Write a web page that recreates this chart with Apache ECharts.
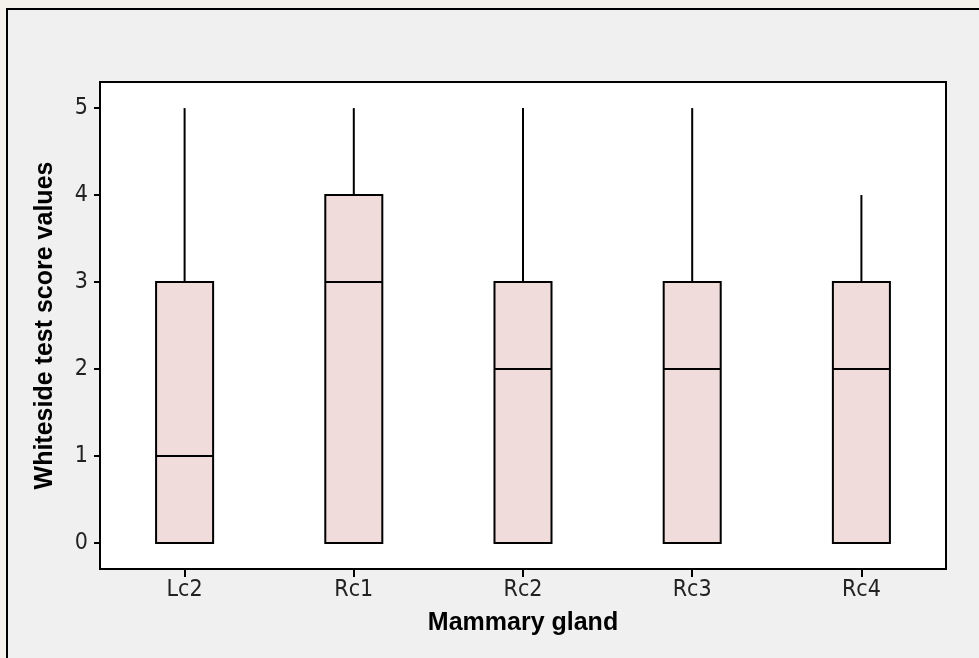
<!DOCTYPE html>
<html>
<head>
<meta charset="utf-8">
<script src="https://cdn.jsdelivr.net/npm/echarts@6/dist/echarts.min.js"></script>
<style>
html,body{margin:0;padding:0;background:#f4f2eb;}
#main{width:979px;height:658px;}
</style>
</head>
<body>
<div id="main"></div>
<script>
var categories = ['Lc2', 'Rc1', 'Rc2', 'Rc3', 'Rc4'];
var whiskerLow = [0, 0, 0, 0, 0];
var q1Values = [0, 0, 0, 0, 0];
var medians = [1, 3, 2, 2, 2];
var q3Values = [3, 4, 3, 3, 3];
var whiskerHigh = [5, 5, 5, 5, 4];
var yTicks = [0, 1, 2, 3, 4, 5];

var boxData = categories.map(function (c, i) {
  return [i, whiskerLow[i], q1Values[i], medians[i], q3Values[i], whiskerHigh[i]];
});

var chart = echarts.init(document.getElementById('main'), null, {renderer: 'canvas'});

function renderBox(params, api) {
  var idx = api.value(0);
  var lo = api.coord([idx, api.value(1)]);
  var q1 = api.coord([idx, api.value(2)]);
  var med = api.coord([idx, api.value(3)]);
  var q3 = api.coord([idx, api.value(4)]);
  var hi = api.coord([idx, api.value(5)]);
  var w = api.size([1, 0])[0] * 0.337;
  var x = q1[0];
  var stroke = {stroke: '#000', lineWidth: 2};
  return {
    type: 'group',
    children: [
      {type: 'line', shape: {x1: x, y1: q3[1], x2: x, y2: hi[1]}, style: stroke},
      {type: 'line', shape: {x1: x, y1: lo[1], x2: x, y2: q1[1]}, style: stroke},
      {type: 'rect', shape: {x: x - w / 2, y: q3[1], width: w, height: q1[1] - q3[1]},
        style: {fill: '#f1dcdc', stroke: '#000', lineWidth: 2}},
      {type: 'line', shape: {x1: x - w / 2, y1: med[1], x2: x + w / 2, y2: med[1]}, style: stroke}
    ]
  };
}

var labelFont = '"Liberation Sans Narrow", "DejaVu Sans Condensed", "Noto Sans", sans-serif';

var option = {
  backgroundColor: '#f4f2eb',
  animation: false,
  graphic: [
    {type: 'rect', z: -10, silent: true,
      shape: {x: 7, y: 9, width: 1100, height: 800},
      style: {fill: '#f0f0f0', stroke: '#000', lineWidth: 2}}
  ],
  grid: {
    left: 100, top: 82, right: 33, bottom: 89,
    show: true, backgroundColor: '#ffffff', borderColor: '#000', borderWidth: 2
  },
  xAxis: {
    type: 'category',
    data: categories,
    boundaryGap: true,
    name: 'Mammary gland',
    nameLocation: 'middle',
    nameGap: 42,
    nameTextStyle: {fontFamily: 'Liberation Sans', fontWeight: 'bold', fontSize: 25, color: '#000'},
    axisLine: {show: true, onZero: false, lineStyle: {color: '#000', width: 2}},
    axisTick: {show: true, alignWithLabel: true, length: 8, lineStyle: {color: '#000', width: 2}},
    axisLabel: {fontFamily: labelFont, fontSize: 23, color: '#222', margin: 10},
    splitLine: {show: false}
  },
  yAxis: {
    type: 'value',
    min: -0.3,
    max: 5.3,
    name: 'Whiteside test score values',
    nameLocation: 'middle',
    nameGap: 42,
    nameTextStyle: {fontFamily: 'Liberation Sans', fontWeight: 'bold', fontSize: 25, color: '#000'},
    axisLine: {show: true, onZero: false, lineStyle: {color: '#000', width: 2}},
    axisTick: {show: true, length: 6, customValues: yTicks, lineStyle: {color: '#000', width: 2}},
    axisLabel: {fontFamily: labelFont, fontSize: 23, color: '#222', margin: 12, customValues: yTicks},
    splitLine: {show: false}
  },
  series: [{
    type: 'custom',
    renderItem: renderBox,
    encode: {x: 0, y: [1, 2, 3, 4, 5]},
    data: boxData
  }]
};
chart.setOption(option);
</script>
</body>
</html>
